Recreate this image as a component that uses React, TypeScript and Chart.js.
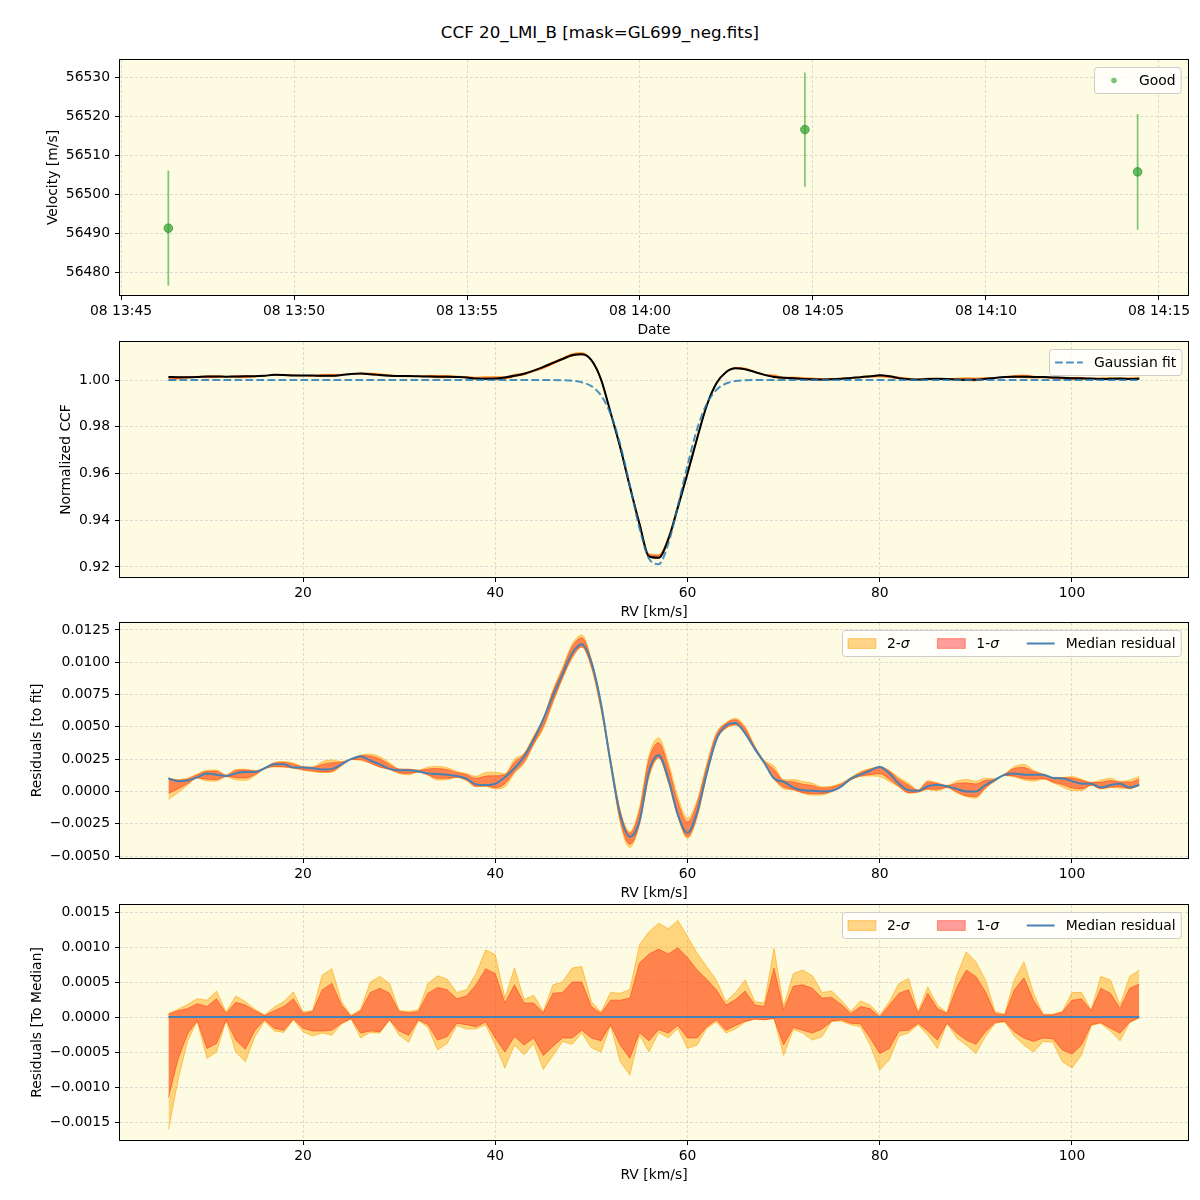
import React, { useEffect, useRef } from 'react';
import { Chart, registerables } from 'chart.js';

Chart.register(...registerables);

const FONT_FAMILY = '"DejaVu Sans", "Liberation Sans", sans-serif';
const FONT_SIZE = 13.9;
const PLOT_BG = '#fdfbe2';
const GRID_COLOR = '#d2d2d2';
const FILL2 = 'rgba(255,165,0,0.45)';
const EDGE2 = 'rgba(255,160,0,0.55)';
const FILL1 = 'rgba(255,0,0,0.38)';
const EDGE1 = 'rgba(255,40,0,0.45)';
const MEDIAN_BLUE = '#4682b4';
const FIT_BLUE = 'rgba(31,119,180,0.8)';

const FIGURE_TITLE = 'CCF 20_LMI_B [mask=GL699_neg.fits]';

// ---------------- Panel 1: velocities ----------------
const obsTimes = ['13:46:22', '14:04:46', '14:14:23'];
const obsVelocity = [56491.3, 56516.7, 56505.8];
const obsVelocityErr = [14.8, 14.7, 14.9];
const timeOrigin = '13:45:00';
const timeTickMinutes = [0, 5, 10, 15, 20, 25, 30];
const timeTickLabels = ['08 13:45', '08 13:50', '08 13:55', '08 14:00', '08 14:05', '08 14:10', '08 14:15'];
const velocityTicks = [56480, 56490, 56500, 56510, 56520, 56530];

// ---------------- RV grid (km/s) ----------------
const rv = [
  6, 7, 8, 9, 10, 11, 12, 13, 14, 15, 16, 17, 18, 19, 20, 21, 22, 23, 24, 25,
  26, 27, 28, 29, 30, 31, 32, 33, 34, 35, 36, 37, 38, 39, 40, 41, 42, 43, 44, 45,
  46, 47, 48, 49, 50, 51, 52, 53, 54, 55, 56, 57, 58, 59, 60, 61, 62, 63, 64, 65,
  66, 67, 68, 69, 70, 71, 72, 73, 74, 75, 76, 77, 78, 79, 80, 81, 82, 83, 84, 85,
  86, 87, 88, 89, 90, 91, 92, 93, 94, 95, 96, 97, 98, 99, 100, 101, 102, 103, 104, 105,
  106, 107,
];

// Panel 2: normalized CCF (black line)
const ccf = [
  1.0013, 1.0012, 1.0012, 1.0013, 1.0015, 1.0015, 1.0014, 1.0015, 1.0016, 1.0016,
  1.0018, 1.0022, 1.0021, 1.0019, 1.0019, 1.0019, 1.0018, 1.0018, 1.0021, 1.0026,
  1.0028, 1.0025, 1.0021, 1.0018, 1.0017, 1.0017, 1.0016, 1.0015, 1.0014, 1.0014,
  1.0013, 1.0011, 1.0006, 1.0005, 1.0006, 1.0011, 1.0018, 1.0027, 1.0040, 1.0056,
  1.0073, 1.0090, 1.0106, 1.0110, 1.0085, 1.0003, 0.9860, 0.9712, 0.9545, 0.9385,
  0.9245, 0.9240, 0.9318, 0.9455, 0.9600, 0.9750, 0.9890, 0.9985, 1.0033, 1.0050,
  1.0046, 1.0034, 1.0022, 1.0013, 1.0010, 1.0007, 1.0004, 1.0003, 1.0002, 1.0003,
  1.0005, 1.0009, 1.0012, 1.0016, 1.0020, 1.0016, 1.0008, 1.0003, 1.0002, 1.0004,
  1.0005, 1.0004, 1.0002, 1.0001, 1.0001, 1.0005, 1.0009, 1.0013, 1.0014, 1.0014,
  1.0013, 1.0013, 1.0011, 1.0010, 1.0008, 1.0007, 1.0006, 1.0004, 1.0005, 1.0006,
  1.0004, 1.0005,
];

// Panel 2: Gaussian fit (dashed)
const fitRV = [6, 44, 45, 46, 47, 48, 49, 50, 51, 52, 53, 54, 55, 56, 57, 58, 59, 60, 61, 62, 63, 64, 65, 66, 67, 68, 107];
const fitCCF = [
  1.0, 1.0, 1.0, 1.0, 0.9999, 0.9997, 0.9990, 0.9974, 0.9934, 0.9855, 0.9724, 0.9549, 0.9367,
  0.9235, 0.9212, 0.9300, 0.9462, 0.9635, 0.9790, 0.9898, 0.9957, 0.9985, 0.9996, 0.9999, 1.0, 1.0, 1.0,
];

// Residual values below are in units of 1e-4
const RESID_UNIT = 1e-4;

// Panel 3: median residual to fit
const medianResid = [
  10, 8, 8.5, 11, 14, 13, 12, 14, 15, 15,
  18, 21, 21, 18.5, 18.5, 18, 17, 17.5, 21, 25,
  27, 24, 21, 17.5, 16.5, 16.5, 15.5, 14, 13.5, 13,
  12, 10, 5.5, 5, 6, 11, 18, 27, 40, 56,
  74, 91, 107, 114, 100, 68, 22, -18, -35, -23,
  16, 28, 10, -18, -32, -16, 14, 40, 51, 53,
  45, 33, 22, 10, 7.5, 3, 1, 0.5, 0, 0.5,
  4, 10, 13, 16, 19, 14, 6, 1, 0.5, 4,
  5, 4, 2, 0, 0, 5, 9, 13, 14, 13,
  13, 13, 10.5, 10, 8, 6, 6, 3, 5, 6,
  3, 5,
];

// Panel 4: spread around the median (2-sigma / 1-sigma envelopes)
const band2Hi = [
  0.5, 1.1, 1.8, 2.6, 2.4, 3.7, 0.7, 3.0, 2.2, 1.1,
  0.3, 1.4, 2.2, 3.6, 0.7, 0.9, 6.0, 6.9, 2.2, 0.2,
  1.1, 5.0, 5.8, 4.8, 0.9, 0.8, 1.0, 4.8, 5.9, 5.4,
  3.5, 3.9, 6.2, 9.6, 8.9, 2.7, 7.0, 2.5, 3.1, 0.8,
  4.6, 5.0, 7.0, 7.2, 2.2, 0.7, 3.5, 3.4, 3.9, 10.3,
  12.2, 13.4, 12.6, 13.8, 11.5, 9.1, 7.2, 5.3, 2.2, 3.5,
  5.3, 2.2, 2.0, 9.8, 1.5, 6.2, 6.7, 5.9, 3.5, 3.7,
  2.4, 0.8, 2.3, 1.7, 0.3, 2.2, 4.8, 5.5, 0.8, 4.3,
  1.7, 0.6, 5.9, 9.3, 7.9, 5.3, 0.8, 0.4, 5.3, 7.9,
  3.4, 0.4, 0.4, 0.8, 3.5, 3.5, 1.0, 5.8, 5.3, 1.7,
  5.8, 6.7,
];
const band1Hi = [
  0.4, 0.9, 1.2, 1.9, 1.5, 2.6, 0.5, 2.1, 1.7, 0.9,
  0.2, 0.9, 1.5, 2.6, 0.5, 0.8, 3.9, 4.8, 1.7, 0.1,
  0.9, 3.5, 4.1, 3.4, 0.8, 0.6, 0.8, 3.4, 4.2, 3.9,
  2.6, 3.0, 4.6, 6.9, 6.2, 2.0, 4.6, 2.0, 2.0, 0.6,
  3.4, 3.5, 5.0, 5.0, 1.5, 0.5, 2.4, 2.4, 2.7, 7.7,
  9.0, 9.7, 9.0, 9.9, 8.5, 6.7, 5.4, 3.9, 1.7, 2.5,
  3.7, 1.7, 1.5, 7.0, 1.0, 4.4, 4.6, 4.1, 2.7, 2.8,
  1.8, 0.5, 1.5, 1.2, 0.0, 1.7, 3.4, 3.9, 0.5, 3.4,
  1.2, 0.5, 4.2, 6.7, 5.8, 3.6, 0.5, 0.3, 3.9, 5.6,
  2.4, 0.3, 0.3, 0.7, 2.4, 2.6, 0.9, 4.1, 3.4, 1.2,
  4.1, 4.7,
];
const band1Lo = [
  -11.5, -6.0, -2.4, -0.5, -4.5, -3.8, -0.4, -3.3, -4.6, -1.9,
  -0.4, -1.6, -1.9, -0.3, -1.6, -2.0, -2.0, -1.9, -0.9, -0.2,
  -2.3, -2.0, -2.1, -0.4, -2.0, -2.6, -0.4, -1.1, -3.3, -2.8,
  -0.9, -1.1, -1.4, -0.7, -3.0, -5.0, -2.8, -4.0, -3.0, -5.5,
  -4.2, -3.0, -3.0, -1.9, -3.0, -3.4, -1.1, -4.0, -5.9, -2.2,
  -3.4, -1.8, -2.3, -1.2, -3.0, -3.0, -1.4, -0.4, -1.9, -1.2,
  -0.6, -0.3, -0.4, -0.2, -4.0, -1.5, -1.9, -2.3, -1.7, -0.6,
  -0.4, -0.9, -1.0, -3.0, -5.2, -4.5, -2.0, -1.9, -0.9, -2.0,
  -3.3, -0.9, -2.3, -3.3, -3.9, -2.1, -0.8, -0.6, -2.1, -3.0,
  -3.5, -3.0, -3.1, -4.7, -5.3, -4.0, -1.1, -0.8, -1.6, -2.3,
  -0.7, -0.1,
];
const band2Lo = [
  -16.1, -9.0, -3.4, -0.6, -5.9, -5.0, -0.5, -5.0, -6.4, -2.8,
  -0.6, -2.0, -2.2, -0.4, -2.1, -2.7, -2.3, -2.6, -1.0, -0.3,
  -3.0, -2.2, -2.3, -0.4, -2.6, -3.6, -0.5, -1.5, -4.7, -3.8,
  -1.2, -1.7, -1.7, -1.1, -4.0, -7.3, -4.0, -5.4, -3.8, -7.5,
  -5.5, -3.5, -3.9, -2.3, -4.4, -5.0, -1.2, -6.4, -8.3, -2.6,
  -5.0, -2.2, -3.0, -1.6, -4.5, -4.0, -1.6, -0.7, -2.3, -1.7,
  -0.7, -0.3, -0.4, -0.2, -5.5, -1.8, -2.3, -3.3, -2.8, -0.6,
  -0.6, -1.1, -1.4, -4.0, -7.6, -6.1, -2.7, -2.3, -1.1, -2.6,
  -4.5, -0.9, -3.0, -4.0, -5.2, -2.8, -0.9, -0.7, -2.7, -4.0,
  -5.0, -3.5, -3.6, -6.4, -7.3, -5.4, -1.2, -0.9, -2.0, -3.4,
  -0.8, -0.1,
];

const rvTicks = [20, 40, 60, 80, 100];
const ccfTicks = [0.92, 0.94, 0.96, 0.98, 1.0];
const residFitTicks = [-0.005, -0.0025, 0, 0.0025, 0.005, 0.0075, 0.01, 0.0125];
const residMedTicks = [-0.0015, -0.001, -0.0005, 0, 0.0005, 0.001, 0.0015];

// ---------------- layout ----------------
const PANEL_AREA_TOPS = [60, 342, 623, 905];
const CANVAS_H = 290;
const TOP_PAD = 10;

const toMinutes = (t: string) => {
  const [h, m, s] = t.split(':').map(Number);
  return h * 60 + m + s / 60;
};
const obsMinutes = obsTimes.map((t) => toMinutes(t) - toMinutes(timeOrigin));

const font = { family: FONT_FAMILY, size: FONT_SIZE };

const fmt = (d: number) => (v: any) => {
  const s = Number(v).toFixed(d);
  return s.startsWith('-') ? '\u2212' + s.slice(1) : s;
};

function gridOpts() {
  return { color: GRID_COLOR, lineWidth: 0.8, drawTicks: true, tickLength: 5, tickColor: '#000', tickWidth: 1 };
}

function xAxis(min: number, max: number, tickVals: number[], cb: any, title: string) {
  return {
    type: 'linear',
    position: 'bottom',
    min,
    max,
    afterBuildTicks: (s: any) => {
      s.ticks = tickVals.map((v) => ({ value: v }));
    },
    afterFit: (s: any) => {
      s.height = 45;
      s.paddingLeft = 0;
      s.paddingRight = 0;
    },
    ticks: { font, color: '#000', padding: 3, maxRotation: 0, autoSkip: false, callback: cb },
    grid: gridOpts(),
    border: { display: false, dash: [3, 2] },
    title: { display: true, text: title, font, color: '#000', padding: { top: 0, bottom: 1.7 } },
  };
}

function yAxis(min: number, max: number, tickVals: number[], cb: any, title: string, titlePad: number) {
  return {
    type: 'linear',
    position: 'left',
    min,
    max,
    afterBuildTicks: (s: any) => {
      s.ticks = tickVals.map((v) => ({ value: v }));
    },
    afterFit: (s: any) => {
      s.width = 120;
      s.paddingTop = 0;
      s.paddingBottom = 0;
    },
    ticks: { font, color: '#000', padding: 5, autoSkip: false, callback: cb },
    grid: gridOpts(),
    border: { display: false, dash: [3, 2] },
    title: { display: true, text: title, font, color: '#000', padding: { top: titlePad, bottom: 0 } },
  };
}

const areaBgPlugin = {
  id: 'areaBg',
  beforeDraw(chart: any) {
    const { ctx, chartArea: a } = chart;
    ctx.save();
    ctx.fillStyle = PLOT_BG;
    ctx.fillRect(a.left, a.top, a.right - a.left, a.bottom - a.top);
    ctx.restore();
  },
};

const framePlugin = {
  id: 'frame',
  afterDatasetsDraw(chart: any) {
    const { ctx, chartArea: a } = chart;
    ctx.save();
    ctx.strokeStyle = '#000';
    ctx.lineWidth = 1;
    ctx.strokeRect(Math.round(a.left) - 0.5, Math.round(a.top) - 0.5, Math.round(a.right - a.left) + 1, Math.round(a.bottom - a.top) + 1);
    ctx.restore();
  },
};

const errorBarPlugin = {
  id: 'errorBars',
  beforeDatasetsDraw(chart: any) {
    const { ctx, scales } = chart;
    const x = scales.x;
    const y = scales.y;
    ctx.save();
    ctx.strokeStyle = 'rgba(44,160,44,0.6)';
    ctx.lineWidth = 1.7;
    obsMinutes.forEach((m, i) => {
      const px = x.getPixelForValue(m);
      ctx.beginPath();
      ctx.moveTo(px, y.getPixelForValue(obsVelocity[i] - obsVelocityErr[i]));
      ctx.lineTo(px, y.getPixelForValue(obsVelocity[i] + obsVelocityErr[i]));
      ctx.stroke();
    });
    ctx.restore();
  },
};

type Part = { t: string; italic?: boolean };
type LegendItem = { kind: 'dot' | 'dash' | 'line' | 'patch'; color: string; edge?: string; parts: Part[] };

function roundRectPath(ctx: any, x: number, y: number, w: number, h: number, r: number) {
  ctx.beginPath();
  ctx.moveTo(x + r, y);
  ctx.lineTo(x + w - r, y);
  ctx.quadraticCurveTo(x + w, y, x + w, y + r);
  ctx.lineTo(x + w, y + h - r);
  ctx.quadraticCurveTo(x + w, y + h, x + w - r, y + h);
  ctx.lineTo(x + r, y + h);
  ctx.quadraticCurveTo(x, y + h, x, y + h - r);
  ctx.lineTo(x, y + r);
  ctx.quadraticCurveTo(x, y, x + r, y);
  ctx.closePath();
}

function legendPlugin(items: LegendItem[]) {
  return {
    id: 'boxLegend',
    afterDraw(chart: any) {
      const { ctx, chartArea: a } = chart;
      const fs = FONT_SIZE;
      const pad = 0.4 * fs;
      const hl = 2 * fs;
      const htp = 0.8 * fs;
      const cs = 2 * fs;
      const fontN = `${fs}px ${FONT_FAMILY}`;
      const fontI = `italic ${fs}px ${FONT_FAMILY}`;
      ctx.save();
      const widths = items.map((it) =>
        it.parts.reduce((w, p) => {
          ctx.font = p.italic ? fontI : fontN;
          return w + ctx.measureText(p.t).width;
        }, 0)
      );
      const W = 2 * pad + widths.reduce((s, w) => s + hl + htp + w, 0) + cs * (items.length - 1);
      const H = 26;
      const bx = Math.round(a.right - 7 - W) + 0.5;
      const by = Math.round(a.top + 7) + 0.5;
      roundRectPath(ctx, bx, by, W, H, 3);
      ctx.fillStyle = 'rgba(255,255,255,0.8)';
      ctx.fill();
      ctx.strokeStyle = '#cccccc';
      ctx.lineWidth = 1;
      ctx.stroke();
      let x = bx + pad;
      const cy = by + H / 2;
      items.forEach((it, i) => {
        if (it.kind === 'dot') {
          ctx.beginPath();
          ctx.arc(x + hl / 2, cy, 2.8, 0, Math.PI * 2);
          ctx.fillStyle = it.color;
          ctx.fill();
        } else if (it.kind === 'dash' || it.kind === 'line') {
          ctx.beginPath();
          ctx.setLineDash(it.kind === 'dash' ? [7.7, 3.3] : []);
          ctx.strokeStyle = it.color;
          ctx.lineWidth = 2;
          ctx.moveTo(x, cy);
          ctx.lineTo(x + hl, cy);
          ctx.stroke();
          ctx.setLineDash([]);
        } else {
          const ph = 0.7 * fs;
          ctx.fillStyle = it.color;
          ctx.fillRect(x, cy - ph / 2, hl, ph);
          if (it.edge) {
            ctx.strokeStyle = it.edge;
            ctx.lineWidth = 1;
            ctx.strokeRect(x, cy - ph / 2, hl, ph);
          }
        }
        let tx = x + hl + htp;
        ctx.fillStyle = '#000';
        ctx.textBaseline = 'middle';
        ctx.textAlign = 'left';
        it.parts.forEach((p) => {
          ctx.font = p.italic ? fontI : fontN;
          ctx.fillText(p.t, tx, cy + 0.5);
          tx += ctx.measureText(p.t).width;
        });
        x += hl + htp + widths[i] + cs;
      });
      ctx.restore();
    },
  };
}

const sigmaLegend: LegendItem[] = [
  { kind: 'patch', color: FILL2, edge: EDGE2, parts: [{ t: '2-' }, { t: '\u03c3', italic: true }] },
  { kind: 'patch', color: FILL1, edge: EDGE1, parts: [{ t: '1-' }, { t: '\u03c3', italic: true }] },
  { kind: 'line', color: MEDIAN_BLUE, parts: [{ t: 'Median residual' }] },
];

function bandSets(base: number[], smooth: boolean) {
  const pts = (off: number[]) => rv.map((x, k) => ({ x, y: base[k] + off[k] * RESID_UNIT }));
  const common: any = { pointRadius: 0, borderWidth: 1 };
  if (smooth) common.cubicInterpolationMode = 'monotone';
  else common.tension = 0;
  return [
    { ...common, data: pts(band2Lo), borderColor: EDGE2, fill: false, order: 10 },
    { ...common, data: pts(band2Hi), borderColor: EDGE2, backgroundColor: FILL2, fill: '-1', order: 9 },
    { ...common, data: pts(band1Lo), borderColor: EDGE1, fill: false, order: 8 },
    { ...common, data: pts(band1Hi), borderColor: EDGE1, backgroundColor: FILL1, fill: '-1', order: 7 },
  ];
}

function baseOptions(scales: any) {
  return {
    responsive: false,
    maintainAspectRatio: false,
    animation: false,
    devicePixelRatio: 1,
    events: [],
    layout: { padding: { top: TOP_PAD, right: 12, left: 0, bottom: 0 } },
    plugins: { legend: { display: false }, tooltip: { enabled: false }, title: { display: false } },
    scales,
  };
}

function panel1Config(): any {
  return {
    type: 'line',
    data: {
      datasets: [
        {
          data: obsMinutes.map((m, i) => ({ x: m, y: obsVelocity[i] })),
          showLine: false,
          pointRadius: 4.3,
          pointBackgroundColor: 'rgba(44,160,44,0.7)',
          pointBorderColor: 'rgba(44,150,44,0.75)',
          pointBorderWidth: 1,
        },
      ],
    },
    options: baseOptions({
      x: xAxis(-0.03, 30.84, timeTickMinutes, (_v: any, i: number) => timeTickLabels[i], 'Date'),
      y: yAxis(56474.1, 56534.6, velocityTicks, (v: any) => String(Math.round(Number(v))), 'Velocity [m/s]', 44.7),
    }),
    plugins: [
      areaBgPlugin,
      errorBarPlugin,
      framePlugin,
      legendPlugin([{ kind: 'dot', color: 'rgba(44,160,44,0.65)', parts: [{ t: 'Good' }] }]),
    ],
  };
}

function panel2Config(): any {
  return {
    type: 'line',
    data: {
      datasets: [
        ...bandSets(ccf, true),
        {
          data: rv.map((x, k) => ({ x, y: ccf[k] })),
          borderColor: '#000',
          borderWidth: 2,
          pointRadius: 0,
          fill: false,
          cubicInterpolationMode: 'monotone',
          order: 2,
        },
        {
          data: fitRV.map((x, k) => ({ x, y: fitCCF[k] })),
          borderColor: FIT_BLUE,
          borderWidth: 2,
          borderDash: [7.7, 3.3],
          pointRadius: 0,
          fill: false,
          cubicInterpolationMode: 'monotone',
          order: 1,
        },
      ],
    },
    options: baseOptions({
      x: xAxis(0.96, 112.07, rvTicks, (v: any) => String(v), 'RV [km/s]'),
      y: yAxis(0.91572, 1.01626, ccfTicks, fmt(2), 'Normalized CCF', 57.7),
    }),
    plugins: [areaBgPlugin, framePlugin, legendPlugin([{ kind: 'dash', color: FIT_BLUE, parts: [{ t: 'Gaussian fit' }] }])],
  };
}

function panel3Config(): any {
  const med = medianResid.map((v) => v * RESID_UNIT);
  return {
    type: 'line',
    data: {
      datasets: [
        ...bandSets(med, true),
        {
          data: rv.map((x, k) => ({ x, y: med[k] })),
          borderColor: MEDIAN_BLUE,
          borderWidth: 2,
          pointRadius: 0,
          fill: false,
          cubicInterpolationMode: 'monotone',
          order: 1,
        },
      ],
    },
    options: baseOptions({
      x: xAxis(0.96, 112.07, rvTicks, (v: any) => String(v), 'RV [km/s]'),
      y: yAxis(-0.00515, 0.01304, residFitTicks, fmt(4), 'Residuals [to fit]', 28.7),
    }),
    plugins: [areaBgPlugin, framePlugin, legendPlugin(sigmaLegend)],
  };
}

function panel4Config(): any {
  const medianToMedian = rv.map(() => 0);
  return {
    type: 'line',
    data: {
      datasets: [
        ...bandSets(medianToMedian, false),
        {
          data: rv.map((x, k) => ({ x, y: medianToMedian[k] })),
          borderColor: MEDIAN_BLUE,
          borderWidth: 2,
          pointRadius: 0,
          fill: false,
          order: 1,
        },
      ],
    },
    options: baseOptions({
      x: xAxis(0.96, 112.07, rvTicks, (v: any) => String(v), 'RV [km/s]'),
      y: yAxis(-0.001757, 0.0016, residMedTicks, fmt(4), 'Residuals [To Median]', 28.7),
    }),
    plugins: [areaBgPlugin, framePlugin, legendPlugin(sigmaLegend)],
  };
}

export default function App() {
  const r1 = useRef<HTMLCanvasElement | null>(null);
  const r2 = useRef<HTMLCanvasElement | null>(null);
  const r3 = useRef<HTMLCanvasElement | null>(null);
  const r4 = useRef<HTMLCanvasElement | null>(null);
  const refs = [r1, r2, r3, r4];

  useEffect(() => {
    const factories = [panel1Config, panel2Config, panel3Config, panel4Config];
    const charts = refs.map((r, i) => new Chart(r.current as HTMLCanvasElement, factories[i]()));
    return () => charts.forEach((c) => c.destroy());
  }, []);

  return (
    <div style={{ position: 'absolute', left: 0, top: 0, width: 1200, height: 1200, background: '#ffffff' }}>
      <div
        style={{
          position: 'absolute',
          left: 0,
          top: 22,
          width: 1200,
          height: 20,
          lineHeight: '20px',
          textAlign: 'center',
          fontFamily: FONT_FAMILY,
          fontSize: 16.7,
          color: '#000',
        }}
      >
        {FIGURE_TITLE}
      </div>
      {PANEL_AREA_TOPS.map((t, i) => (
        <canvas
          key={i}
          ref={refs[i]}
          width={1200}
          height={CANVAS_H}
          style={{ position: 'absolute', left: 0, top: t - TOP_PAD, width: 1200, height: CANVAS_H }}
        />
      ))}
    </div>
  );
}
